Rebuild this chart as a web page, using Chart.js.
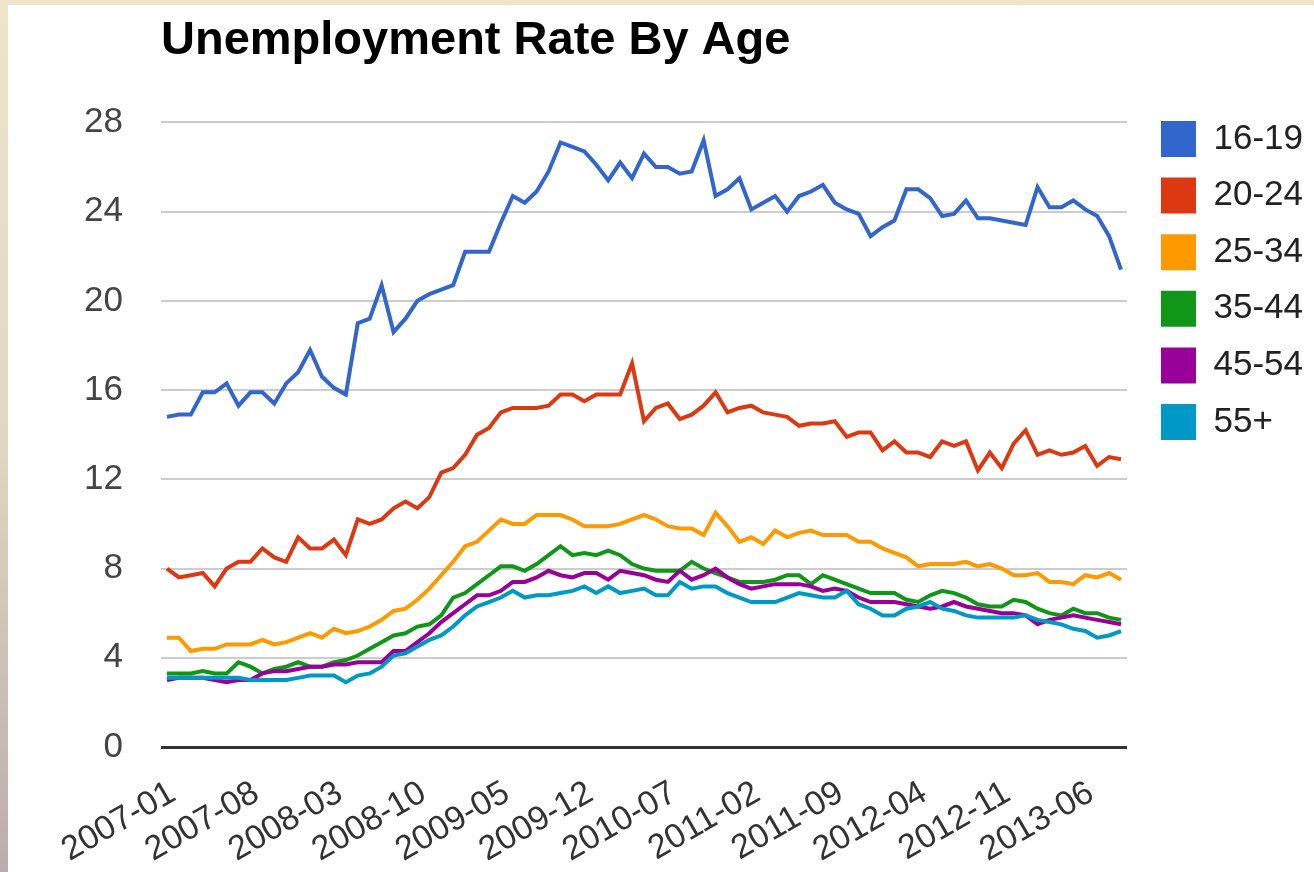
<!DOCTYPE html>
<html>
<head>
<meta charset="utf-8">
<title>Unemployment Rate By Age</title>
<script src="https://cdn.jsdelivr.net/npm/chart.js@4.4.1/dist/chart.umd.min.js"></script>
<style>
  html, body { margin: 0; padding: 0; }
  body {
    width: 1314px; height: 872px; overflow: hidden;
    background: linear-gradient(to bottom, #efe3c9 0%, #e3d6c1 50%, #bdacad 100%);
  }
  #frame { position: absolute; left: 8px; top: 5px; width: 1306px; height: 867px; background: #fff; }
</style>
</head>
<body>
<div id="frame"><canvas id="ageChart" width="1306" height="867"></canvas></div>
<script>
const seriesNames = ['16-19', '20-24', '25-34', '35-44', '45-54', '55+'];
const seriesColors = ['#3366cc', '#dc3912', '#ff9900', '#109618', '#990099', '#0099c6'];

// monthly rates, 2007-01 .. 2013-09
const age16to19 = [
  14.8, 14.9, 14.9, 15.9, 15.9, 16.3, 15.3, 15.9, 15.9, 15.4,
  16.3, 16.8, 17.8, 16.6, 16.1, 15.8, 19.0, 19.2, 20.7, 18.6,
  19.2, 20.0, 20.3, 20.5, 20.7, 22.2, 22.2, 22.2, 23.5, 24.7,
  24.4, 24.9, 25.8, 27.1, 26.9, 26.7, 26.1, 25.4, 26.2, 25.5,
  26.6, 26.0, 26.0, 25.7, 25.8, 27.2, 24.7, 25.0, 25.5, 24.1,
  24.4, 24.7, 24.0, 24.7, 24.9, 25.2, 24.4, 24.1, 23.9, 22.9,
  23.3, 23.6, 25.0, 25.0, 24.6, 23.8, 23.9, 24.5, 23.7, 23.7,
  23.6, 23.5, 23.4, 25.1, 24.2, 24.2, 24.5, 24.1, 23.8, 22.9,
  21.4
];
const age20to24 = [
  8.0, 7.6, 7.7, 7.8, 7.2, 8.0, 8.3, 8.3, 8.9, 8.5,
  8.3, 9.4, 8.9, 8.9, 9.3, 8.6, 10.2, 10.0, 10.2, 10.7,
  11.0, 10.7, 11.2, 12.3, 12.5, 13.1, 14.0, 14.3, 15.0, 15.2,
  15.2, 15.2, 15.3, 15.8, 15.8, 15.5, 15.8, 15.8, 15.8, 17.2,
  14.6, 15.2, 15.4, 14.7, 14.9, 15.3, 15.9, 15.0, 15.2, 15.3,
  15.0, 14.9, 14.8, 14.4, 14.5, 14.5, 14.6, 13.9, 14.1, 14.1,
  13.3, 13.7, 13.2, 13.2, 13.0, 13.7, 13.5, 13.7, 12.4, 13.2,
  12.5, 13.6, 14.2, 13.1, 13.3, 13.1, 13.2, 13.5, 12.6, 13.0,
  12.9
];
const age25to34 = [
  4.9, 4.9, 4.3, 4.4, 4.4, 4.6, 4.6, 4.6, 4.8, 4.6,
  4.7, 4.9, 5.1, 4.9, 5.3, 5.1, 5.2, 5.4, 5.7, 6.1,
  6.2, 6.6, 7.1, 7.7, 8.3, 9.0, 9.2, 9.7, 10.2, 10.0,
  10.0, 10.4, 10.4, 10.4, 10.2, 9.9, 9.9, 9.9, 10.0, 10.2,
  10.4, 10.2, 9.9, 9.8, 9.8, 9.5, 10.5, 9.9, 9.2, 9.4,
  9.1, 9.7, 9.4, 9.6, 9.7, 9.5, 9.5, 9.5, 9.2, 9.2,
  8.9, 8.7, 8.5, 8.1, 8.2, 8.2, 8.2, 8.3, 8.1, 8.2,
  8.0, 7.7, 7.7, 7.8, 7.4, 7.4, 7.3, 7.7, 7.6, 7.8,
  7.5
];
const age35to44 = [
  3.3, 3.3, 3.3, 3.4, 3.3, 3.3, 3.8, 3.6, 3.3, 3.5,
  3.6, 3.8, 3.6, 3.6, 3.8, 3.9, 4.1, 4.4, 4.7, 5.0,
  5.1, 5.4, 5.5, 5.9, 6.7, 6.9, 7.3, 7.7, 8.1, 8.1,
  7.9, 8.2, 8.6, 9.0, 8.6, 8.7, 8.6, 8.8, 8.6, 8.2,
  8.0, 7.9, 7.9, 7.9, 8.3, 8.0, 7.8, 7.6, 7.4, 7.4,
  7.4, 7.5, 7.7, 7.7, 7.3, 7.7, 7.5, 7.3, 7.1, 6.9,
  6.9, 6.9, 6.6, 6.5, 6.8, 7.0, 6.9, 6.7, 6.4, 6.3,
  6.3, 6.6, 6.5, 6.2, 6.0, 5.9, 6.2, 6.0, 6.0, 5.8,
  5.7
];
const age45to54 = [
  3.0, 3.1, 3.1, 3.1, 3.0, 2.9, 3.0, 3.0, 3.3, 3.4,
  3.4, 3.5, 3.6, 3.6, 3.7, 3.7, 3.8, 3.8, 3.8, 4.3,
  4.3, 4.7, 5.1, 5.6, 6.0, 6.4, 6.8, 6.8, 7.0, 7.4,
  7.4, 7.6, 7.9, 7.7, 7.6, 7.8, 7.8, 7.5, 7.9, 7.8,
  7.7, 7.5, 7.4, 7.9, 7.5, 7.7, 8.0, 7.6, 7.3, 7.1,
  7.2, 7.3, 7.3, 7.3, 7.2, 7.0, 7.1, 7.0, 6.7, 6.5,
  6.5, 6.5, 6.4, 6.3, 6.2, 6.3, 6.5, 6.3, 6.2, 6.1,
  6.0, 6.0, 5.9, 5.5, 5.7, 5.8, 5.9, 5.8, 5.7, 5.6,
  5.5
];
const age55plus = [
  3.1, 3.1, 3.1, 3.1, 3.1, 3.1, 3.1, 3.0, 3.0, 3.0,
  3.0, 3.1, 3.2, 3.2, 3.2, 2.9, 3.2, 3.3, 3.6, 4.1,
  4.2, 4.5, 4.8, 5.0, 5.4, 5.9, 6.3, 6.5, 6.7, 7.0,
  6.7, 6.8, 6.8, 6.9, 7.0, 7.2, 6.9, 7.2, 6.9, 7.0,
  7.1, 6.8, 6.8, 7.4, 7.1, 7.2, 7.2, 6.9, 6.7, 6.5,
  6.5, 6.5, 6.7, 6.9, 6.8, 6.7, 6.7, 7.0, 6.4, 6.2,
  5.9, 5.9, 6.2, 6.3, 6.5, 6.2, 6.1, 5.9, 5.8, 5.8,
  5.8, 5.8, 5.9, 5.7, 5.6, 5.5, 5.3, 5.2, 4.9, 5.0,
  5.2
];
const seriesValues = [age16to19, age20to24, age25to34, age35to44, age45to54, age55plus];

// category labels: one per month
const months = [];
for (let y = 2007; y <= 2013; y++) {
  for (let m = 1; m <= 12; m++) {
    if (y === 2013 && m > 9) break;
    months.push(y + '-' + String(m).padStart(2, '0'));
  }
}
const labelEvery = 7; // a tick label every 7 months

const fontFamily = '"Liberation Sans", Arial, Helvetica, sans-serif';
Chart.defaults.font.family = fontFamily;

const ctx = document.getElementById('ageChart').getContext('2d');
const ageChart = new Chart(ctx, {
  type: 'line',
  data: {
    labels: months,
    datasets: seriesValues.map((vals, i) => ({
      label: seriesNames[i],
      data: vals,
      borderColor: seriesColors[i],
      backgroundColor: seriesColors[i],
      borderWidth: 4,
      pointRadius: 0,
      pointHoverRadius: 0,
      tension: 0,
      fill: false,
      order: seriesNames.length - i // later series on top
    }))
  },
  options: {
    responsive: false,
    animation: false,
    layout: { padding: { left: 0, right: 1, top: 0, bottom: 0 } },
    plugins: {
      tooltip: { enabled: false },
      title: {
        display: true,
        text: 'Unemployment Rate By Age',
        align: 'start',
        fullSize: false,
        color: '#000',
        font: { size: 47, weight: 'bold', lineHeight: 1.2 },
        padding: { top: 8, bottom: 53 }
      },
      legend: {
        position: 'right',
        align: 'start',
        title: { display: true, text: '', font: { size: 10, lineHeight: 1.2 }, padding: { top: 83.4, bottom: 0 } },
        labels: {
          boxWidth: 35,
          boxHeight: 36,
          padding: 20.6,
          color: '#222',
          font: { size: 35 },
          generateLabels: chart => chart.data.datasets.map((ds, i) => ({
            text: ds.label,
            fillStyle: ds.borderColor,
            strokeStyle: ds.borderColor,
            fontColor: '#222',
            lineWidth: 0,
            hidden: false,
            datasetIndex: i
          }))
        }
      }
    },
    scales: {
      x: {
        type: 'category',
        offset: true,
        grid: { display: false, drawTicks: false },
        border: { display: false },
        ticks: {
          autoSkip: false,
          minRotation: 30,
          maxRotation: 30,
          padding: 26,
          labelOffset: 6,
          color: '#333',
          font: { size: 34 },
          callback: (v, i) => (i % labelEvery === 0 ? months[i] : '')
        },
        afterFit: s => { s.height = 125; }
      },
      y: {
        min: 0,
        max: 28,
        ticks: { stepSize: 4, padding: 38, color: '#444', font: { size: 35 } },
        grid: {
          drawTicks: false,
          color: c => (c.tick.value === 0 ? '#333' : '#cccccc'),
          lineWidth: c => (c.tick.value === 0 ? 3 : 2)
        },
        border: { display: false },
        afterFit: s => { s.width = 153; }
      },
      // empty gap between plot and legend
      gap: {
        type: 'linear',
        position: 'right',
        grid: { display: false, drawTicks: false },
        border: { display: false },
        ticks: { display: false },
        afterFit: s => { s.width = 13.4; }
      }
    }
  }
});
</script>
</body>
</html>
